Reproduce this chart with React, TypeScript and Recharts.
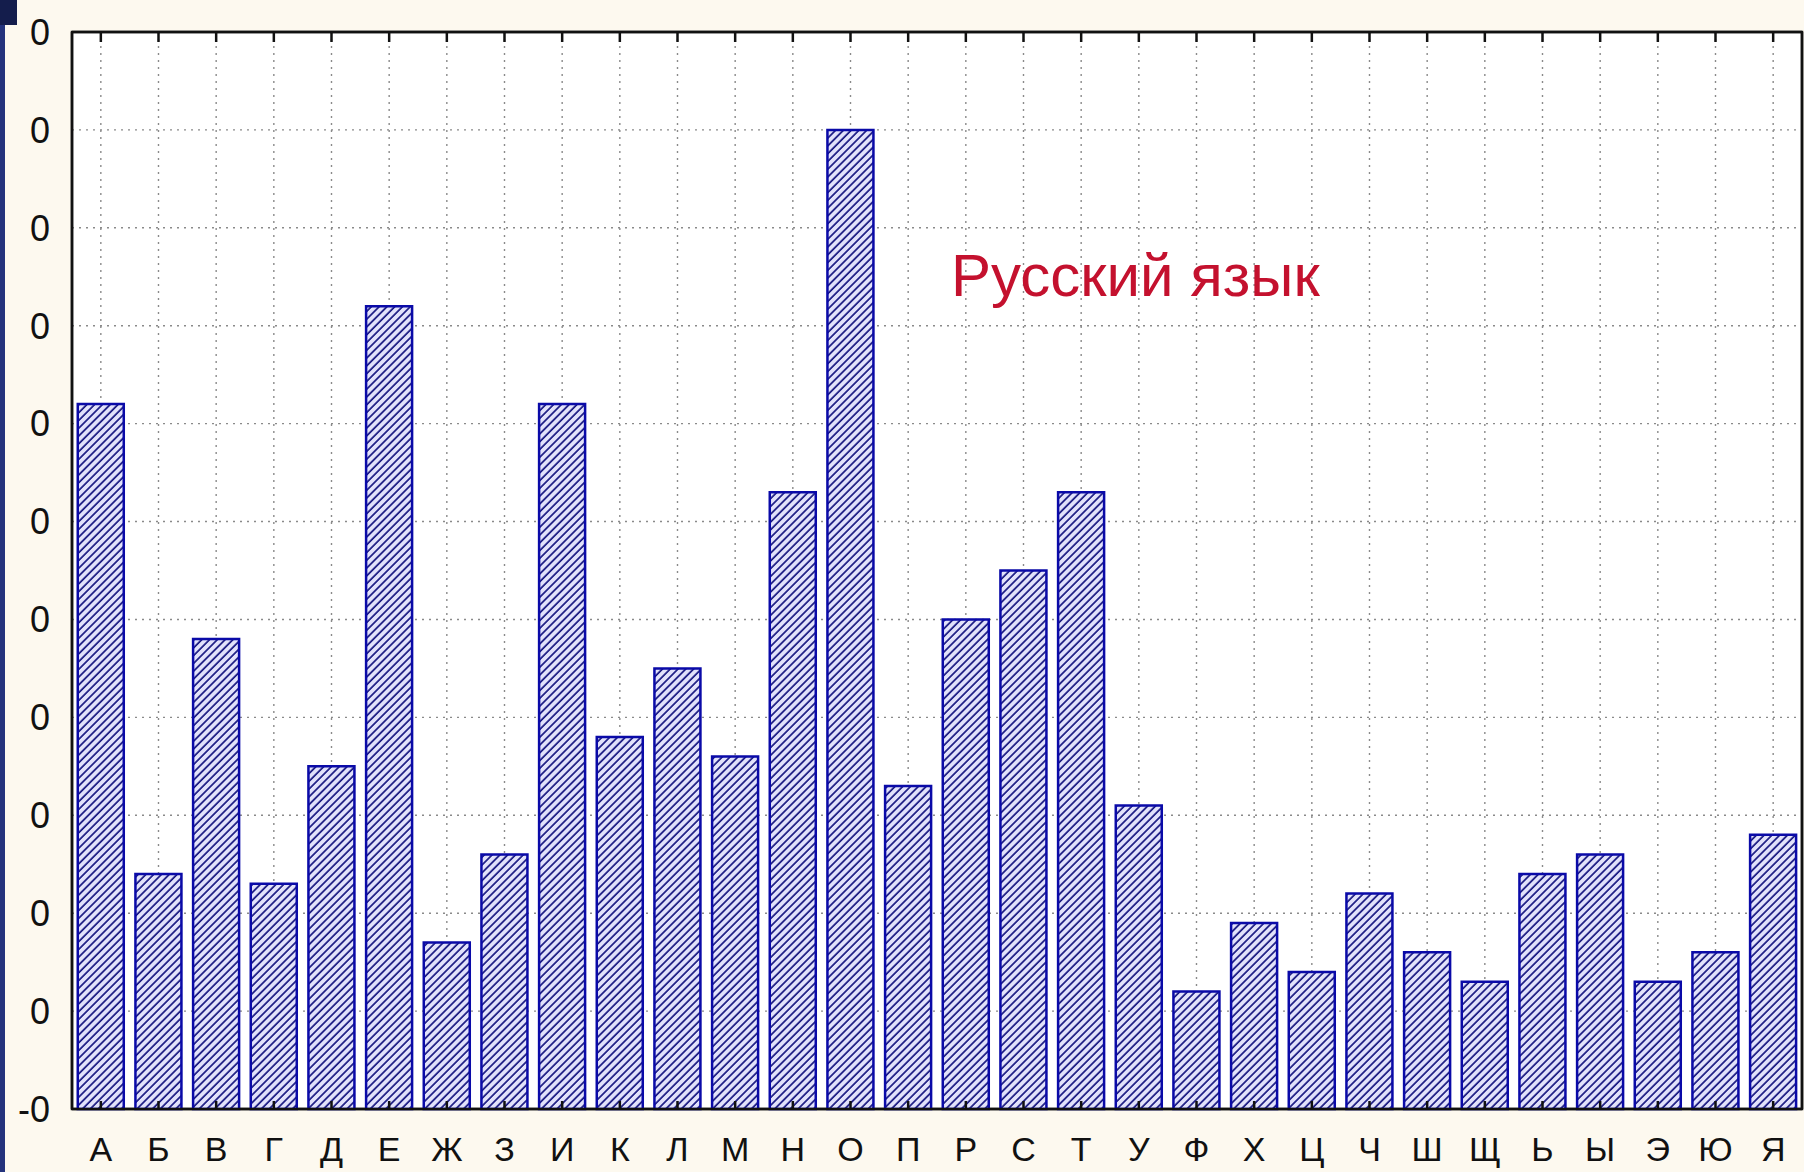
import { BarChart, Bar, XAxis, YAxis, CartesianGrid, ReferenceArea } from 'recharts'

const letters = ['А', 'Б', 'В', 'Г', 'Д', 'Е', 'Ж', 'З', 'И', 'К', 'Л', 'М', 'Н', 'О', 'П', 'Р', 'С', 'Т', 'У', 'Ф', 'Х', 'Ц', 'Ч', 'Ш', 'Щ', 'Ь', 'Ы', 'Э', 'Ю', 'Я']
const freq = [7.2, 2.4, 4.8, 2.3, 3.5, 8.2, 1.7, 2.6, 7.2, 3.8, 4.5, 3.6, 6.3, 10.0, 3.3, 5.0, 5.5, 6.3, 3.1, 1.2, 1.9, 1.4, 2.2, 1.6, 1.3, 2.4, 2.6, 1.3, 1.6, 2.8]
const yTicks = [0, 1, 2, 3, 4, 5, 6, 7, 8, 9, 10, 11]
const yTickLabels = ['-0', '0', '0', '0', '0', '0', '0', '0', '0', '0', '0', '0']
const label = 'Русский язык'

const data = letters.map((letter, i) => ({ letter, value: freq[i] }))

const FONT = '"Liberation Sans", Arial, sans-serif'
const frame = { stroke: '#111', strokeWidth: 2.5 }
const noLabel = () => <g />

export default function App() {
  return (
    <div style={{ position: 'absolute', left: 0, top: 0, width: 1804, height: 1172, background: '#fdf9ef', overflow: 'hidden', fontFamily: FONT }}>
      <div style={{ position: 'absolute', left: 0, top: 0, width: 5, height: 1172, background: '#24337c' }} />
      <div style={{ position: 'absolute', left: 0, top: 0, width: 17, height: 25, background: '#141d4c' }} />
      <BarChart width={1804} height={1172} data={data} margin={{ top: 32, right: 2, bottom: 0, left: 0 }}>
        <defs>
          <pattern id="hatch" patternUnits="userSpaceOnUse" width={5.5} height={5.5} patternTransform="rotate(45)">
            <rect width={5.5} height={5.5} fill="#e2e2fb" />
            <line x1={1} y1={0} x2={1} y2={5.5} stroke="#14147e" strokeWidth={1.7} />
          </pattern>
        </defs>
        <CartesianGrid fill="#ffffff" stroke="#8a8a8a" strokeWidth={1.4} strokeDasharray="2 5" />
        <XAxis dataKey="letter" height={63} tickSize={0} tickMargin={28} tickLine={false}
          axisLine={frame} interval={0}
          tick={{ fontSize: 34, fill: '#111', fontFamily: FONT }} />
        <XAxis xAxisId="top" dataKey="letter" orientation="top" mirror height={1} tick={noLabel}
          tickSize={10} tickLine={frame} axisLine={frame} interval={0} />
        <XAxis xAxisId="bot" dataKey="letter" orientation="bottom" mirror height={1} tick={noLabel}
          tickSize={8} tickLine={frame} axisLine={false} interval={0} />
        <YAxis width={72} domain={[0, 11]} ticks={yTicks} tickSize={0} tickMargin={22} tickLine={false}
          axisLine={frame} interval={0}
          tickFormatter={(v: number) => yTickLabels[yTicks.indexOf(v)]}
          tick={{ fontSize: 36, fill: '#111', fontFamily: FONT }} />
        <YAxis yAxisId="l2" domain={[0, 11]} ticks={yTicks} mirror width={1} tick={noLabel}
          tickSize={9} tickLine={frame} axisLine={false} interval={0} />
        <YAxis yAxisId="r" orientation="right" domain={[0, 11]} ticks={yTicks} mirror width={1} tick={noLabel}
          tickSize={9} tickLine={frame} axisLine={frame} interval={0} />
        <Bar dataKey="value" fill="url(#hatch)" stroke="#0a0aa8" strokeWidth={2.5}
          barCategoryGap="11%" isAnimationActive={false} />
        <ReferenceArea y1={0} y2={11} fill="none" stroke="#111" strokeWidth={2.5} fillOpacity={0} />
      </BarChart>
      <div style={{ position: 'absolute', left: 951, top: 246, fontSize: 60, lineHeight: '60px', color: '#c4112e', whiteSpace: 'nowrap' }}>
        {label}
      </div>
    </div>
  )
}
